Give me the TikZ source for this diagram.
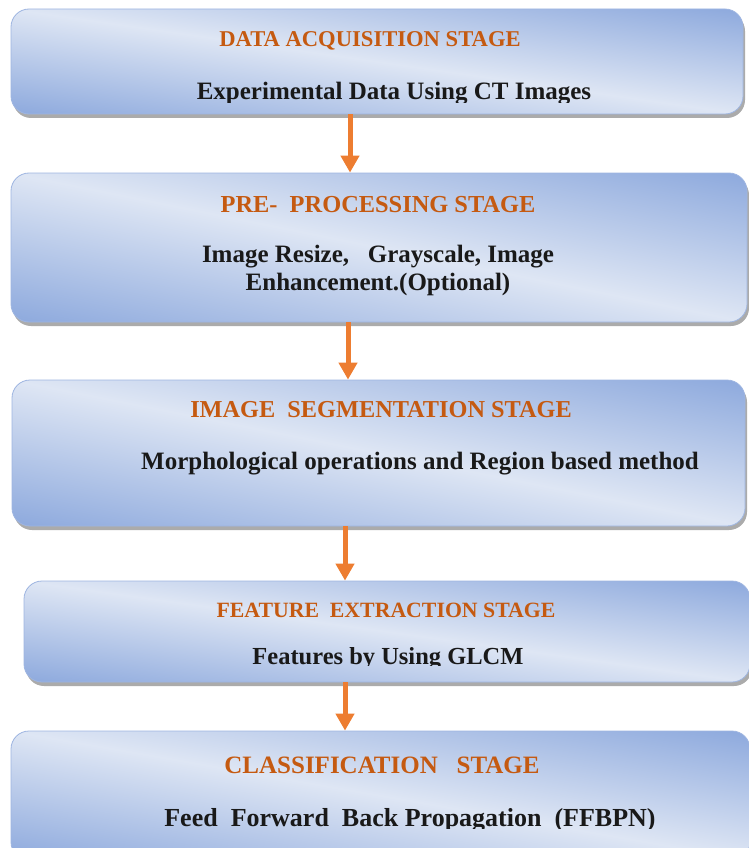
\documentclass[tikz,border=0pt]{standalone}
\usepackage{fontspec}
\setmainfont{Liberation Serif}
\usetikzlibrary{arrows.meta,shadows}

\definecolor{stgline}{RGB}{158,181,225}
\definecolor{stgorange}{RGB}{197,90,17}
\definecolor{flowarrow}{RGB}{237,125,49}

% light band along the diagonal, darker towards top right and bottom left
\pgfdeclarefunctionalshading{stgshade}{\pgfpoint{0bp}{0bp}}{\pgfpoint{100bp}{100bp}}{}{
    add 100 sub abs 50 div dup 1 gt {pop 1} if
    dup dup -0.090 mul 0.957 add exch -0.239 mul 0.902 add exch
    3 -1 roll -0.318 mul 0.871 add 3 1 roll
}

\newcommand{\fsz}[1]{\fontsize{#1}{28}\selectfont\bfseries}

\tikzset{
    stagebox/.style={draw=stgline, line width=0.8pt, rounded corners=18pt, inner sep=0pt,
        shade, shading=stgshade,
        drop shadow={shadow xshift=2pt, shadow yshift=-4pt, fill=black!60, opacity=0.55}},
    ttl/.style={text=stgorange, anchor=base, inner sep=0pt},
    dsc/.style={text=black!90, anchor=base, inner sep=0pt, align=center, font=\fsz{25}},
    flow/.style={draw=flowarrow, line width=5pt, -{Triangle[width=18pt,length=17pt]}}
}

\begin{document}
\begin{tikzpicture}[x=1pt, y=-1pt]
    \useasboundingbox (0,0) rectangle (749,848);
    \clip (0,0) rectangle (749,848);

    % stage boxes
    \node[stagebox, minimum width=732pt, minimum height=105pt] (b1) at (377,61.5) {};
    \node[stagebox, minimum width=736pt, minimum height=149pt] (b2) at (379,247.5) {};
    \node[stagebox, minimum width=733pt, minimum height=146pt] (b3) at (378.5,453) {};
    \node[stagebox, minimum width=726pt, minimum height=101pt] (b4) at (387,631.5) {};
    \node[stagebox, minimum width=739pt, minimum height=129pt] (b5) at (380.5,795.5) {};

    % titles
    \node[ttl, font=\fsz{22.6}] (t1) at (370,47) {DATA ACQUISITION STAGE};
    \node[ttl, font=\fsz{24.4}] (t2) at (378,212) {PRE-\ \ PROCESSING STAGE};
    \node[ttl, font=\fsz{24.3}] (t3) at (381,417) {IMAGE\ \ SEGMENTATION STAGE};
    \node[ttl, font=\fsz{21.8}] (t4) at (386,617) {FEATURE\ \ EXTRACTION STAGE};
    \node[ttl, font=\fsz{25}] (t5) at (382,773) {CLASSIFICATION\ \ \ STAGE};

    % descriptions (some cut off at the bottom as in the text boxes)
    \begin{scope}
        \clip (0,0) rectangle (749,102.5);
        \node[dsc] (d1) at (394,100) {Experimental Data Using CT Images};
    \end{scope}
    \node[dsc, anchor=center] (d2) at (378,270) {Image Resize,\ \ \ Grayscale, Image\\Enhancement.(Optional)};
    \node[dsc] (d3) at (420,469) {Morphological operations and Region based method};
    \begin{scope}
        \clip (0,600) rectangle (749,665);
        \node[dsc, font=\fsz{24.5}] (d4) at (388,664) {Features by Using GLCM};
    \end{scope}
    \begin{scope}
        \clip (0,780) rectangle (749,828);
        \node[dsc, font=\fsz{26}] (d5) at (410,826) {Feed\ \ Forward\ \ Back Propagation\ \ (FFBPN)};
    \end{scope}

    % arrows
    \draw[flow] ([xshift=-27pt]b1.south) -- ([xshift=-29pt]b2.north);
    \draw[flow] ([xshift=-31pt]b2.south) -- ([xshift=-30.5pt]b3.north);
    \draw[flow] ([xshift=-33.5pt]b3.south) -- ([xshift=-42pt]b4.north);
    \draw[flow] ([xshift=-42pt]b4.south) -- ([xshift=-35.5pt]b5.north);
\end{tikzpicture}
\end{document}
